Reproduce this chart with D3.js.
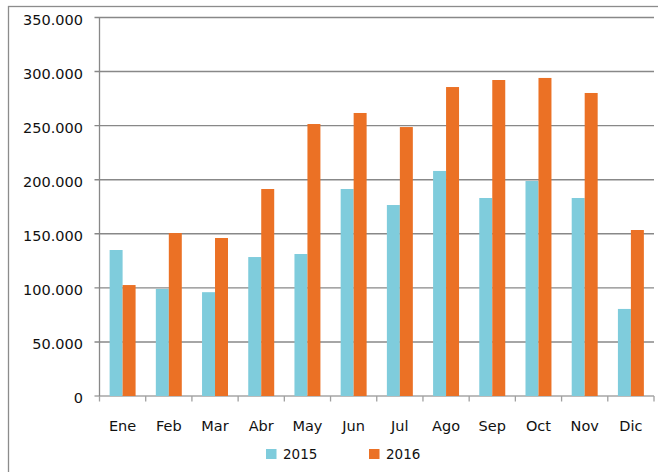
<!DOCTYPE html>
<html>
<head>
<meta charset="utf-8">
<script src="https://cdn.jsdelivr.net/npm/d3@7"></script>
<style>
  body { margin: 0; background: #fff; }
  text { font-family: "DejaVu Sans", sans-serif; fill: #111; }
</style>
</head>
<body>
<script>
(function() {
    var w = 658;
    var h = 472;

    var months = ["Ene", "Feb", "Mar", "Abr", "May", "Jun", "Jul", "Ago", "Sep", "Oct", "Nov", "Dic"];
    var years = ["2015", "2016"];
    var sales2015 = [135000, 99000, 96000, 128500, 131300, 191400, 176600, 208100, 183100, 198800, 183100, 80500];
    var sales2016 = [102600, 150700, 146100, 191400, 251500, 261700, 248700, 285700, 292200, 294100, 280200, 153500];
    var yTicks = [0, 50000, 100000, 150000, 200000, 250000, 300000, 350000];

    var colors = {"2015": "#7fccdc", "2016": "#eb7125"};

    var left = 99.5, right = 654, top = 17.5, bottom = 396;

    // spanish number format: 350.000
    var es = d3.formatLocale({decimal: ",", thousands: ".", grouping: [3], currency: ["", "€"]});
    var fmt = es.format(",.0f");

    var svg = d3.select("body").append("svg")
        .attr("width", w)
        .attr("height", h);

    // outer frame
    svg.append("rect")
        .attr("x", 8.5).attr("y", 6.5)
        .attr("width", w + 20).attr("height", h + 20)
        .attr("fill", "none")
        .attr("stroke", "#8c8c8c")
        .attr("stroke-width", 1.3);

    var x0 = d3.scaleBand().domain(months).range([left, right]);
    var x1 = d3.scaleBand().domain(years).range([0, x0.bandwidth()]).paddingOuter(0.78);
    var y = d3.scaleLinear().domain([0, 350000]).range([bottom, top]);

    // gridlines
    svg.append("g").selectAll("line")
        .data(yTicks)
        .enter().append("line")
        .attr("x1", left - 5).attr("x2", right)
        .attr("y1", function(d) { return y(d); })
        .attr("y2", function(d) { return y(d); })
        .attr("stroke", function(d) { return d === 0 ? "#a6a6a6" : "#888888"; })
        .attr("stroke-width", 1.4);

    // y labels
    svg.append("g").selectAll("text")
        .data(yTicks)
        .enter().append("text")
        .attr("x", 83)
        .attr("y", function(d) { return y(d) + 7; })
        .attr("text-anchor", "end")
        .attr("font-size", "14.5px")
        .text(function(d) { return fmt(d); });

    // bars
    var rows = months.map(function(m, i) {
        return {month: m, values: [{year: "2015", v: sales2015[i]}, {year: "2016", v: sales2016[i]}]};
    });

    var groups = svg.append("g").selectAll("g")
        .data(rows)
        .enter().append("g")
        .attr("transform", function(d) { return "translate(" + x0(d.month) + ",0)"; });

    groups.selectAll("rect")
        .data(function(d) { return d.values; })
        .enter().append("rect")
        .attr("x", function(d) { return x1(d.year); })
        .attr("width", x1.bandwidth())
        .attr("y", function(d) { return y(d.v); })
        .attr("height", function(d) { return bottom - y(d.v); })
        .attr("fill", function(d) { return colors[d.year]; });

    // y axis line
    svg.append("line")
        .attr("x1", left).attr("x2", left)
        .attr("y1", top).attr("y2", bottom)
        .attr("stroke", "#888888").attr("stroke-width", 1.3);

    // x axis ticks
    var bounds = months.map(function(m) { return x0(m); }).concat([right]);
    svg.append("g").selectAll("line")
        .data(bounds)
        .enter().append("line")
        .attr("x1", function(d) { return d; }).attr("x2", function(d) { return d; })
        .attr("y1", bottom).attr("y2", bottom + 5.5)
        .attr("stroke", "#a0a0a0").attr("stroke-width", 1.3);

    // month labels
    svg.append("g").selectAll("text")
        .data(months)
        .enter().append("text")
        .attr("x", function(d) { return x0(d) + x0.bandwidth() / 2; })
        .attr("y", 431)
        .attr("text-anchor", "middle")
        .attr("font-size", "14.5px")
        .text(function(d) { return d; });

    // legend
    var legX = [266, 369];
    var leg = svg.append("g").selectAll("g")
        .data(years)
        .enter().append("g")
        .attr("transform", function(d, i) { return "translate(" + legX[i] + ",449)"; });

    leg.append("rect")
        .attr("width", 10.5).attr("height", 10)
        .attr("fill", function(d) { return colors[d]; });

    leg.append("text")
        .attr("x", 17).attr("y", 10)
        .attr("font-size", "13.5px")
        .text(function(d) { return d; });
})();
</script>
</body>
</html>
